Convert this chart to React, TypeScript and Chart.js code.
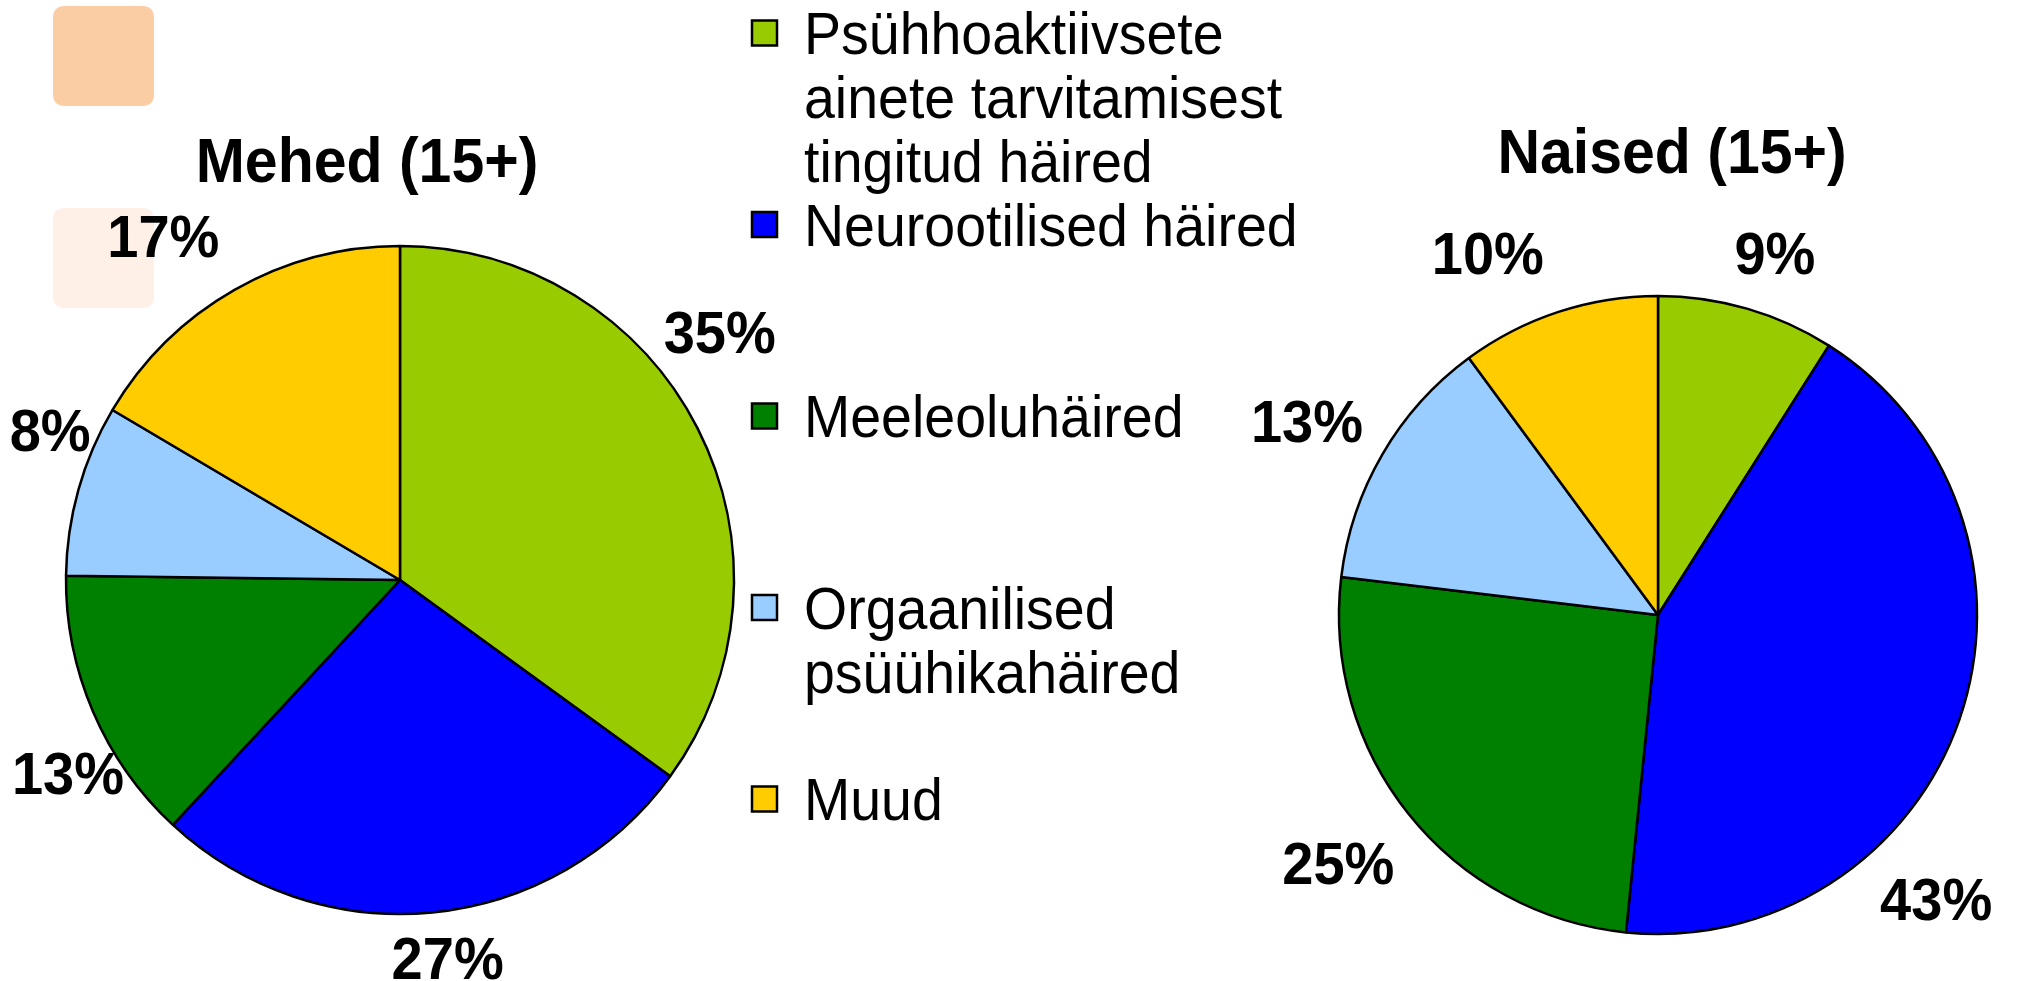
import React, { useEffect, useRef } from "react";
import { Chart, registerables } from "chart.js";

Chart.register(...registerables);

// ---------- data ----------
const categories: string[] = [
  "Psühhoaktiivsete\nainete tarvitamisest\ntingitud häired",
  "Neurootilised häired",
  "Meeleoluhäired",
  "Orgaanilised\npsüühikahäired",
  "Muud",
];
const menValues: number[] = [35.0, 26.9, 13.3, 8.3, 16.5];
const womenValues: number[] = [9.0, 42.6, 25.3, 13.0, 10.1];
const sliceColors: string[] = ["#99CC00", "#0000FF", "#008000", "#99CCFF", "#FFCC00"];
const menTitle = "Mehed (15+)";
const womenTitle = "Naised (15+)";

// ---------- layout / style ----------
const W = 2017;
const H = 981;
const FONT = '"Liberation Sans", Arial, Helvetica, sans-serif';

type PieLayout = {
  cx: number;
  cy: number;
  r: number;
  title: string;
  titleX: number;
  titleBaseline: number;
  labelAngleShift: number[];
  labelRadiusFactor: number[];
};

const menLayout: PieLayout = {
  cx: 400,
  cy: 580,
  r: 334,
  title: menTitle,
  titleX: 367,
  titleBaseline: 182,
  labelAngleShift: [-10.7, -1.6, -7.05, 7.45, -4.9],
  labelRadiusFactor: [1.21, 1.141, 1.151, 1.139, 1.248],
};

const womenLayout: PieLayout = {
  cx: 1658,
  cy: 615,
  r: 319,
  title: womenTitle,
  titleX: 1672,
  titleBaseline: 173,
  labelAngleShift: [1.7, 26.6, 0.8, -1.34, -7.0],
  labelRadiusFactor: [1.192, 1.248, 1.27, 1.257, 1.254],
};

const LABEL_DY = 4;

function drawText(
  ctx: CanvasRenderingContext2D,
  text: string,
  x: number,
  y: number,
  font: string,
  align: CanvasTextAlign,
  baseline: CanvasTextBaseline,
  stretchY: number
) {
  ctx.save();
  ctx.translate(x, y);
  ctx.scale(1, stretchY);
  ctx.font = font;
  ctx.fillStyle = "#000";
  ctx.textAlign = align;
  ctx.textBaseline = baseline;
  ctx.fillText(text, 0, 0);
  ctx.restore();
}

function roundRect(ctx: CanvasRenderingContext2D, x: number, y: number, w: number, h: number, r: number) {
  ctx.beginPath();
  ctx.moveTo(x + r, y);
  ctx.lineTo(x + w - r, y);
  ctx.quadraticCurveTo(x + w, y, x + w, y + r);
  ctx.lineTo(x + w, y + h - r);
  ctx.quadraticCurveTo(x + w, y + h, x + w - r, y + h);
  ctx.lineTo(x + r, y + h);
  ctx.quadraticCurveTo(x, y + h, x, y + h - r);
  ctx.lineTo(x, y + r);
  ctx.quadraticCurveTo(x, y, x + r, y);
  ctx.closePath();
}

function makeLabelPlugin(layout: PieLayout) {
  return {
    id: "pieLabels",
    afterDatasetsDraw(chart: any) {
      const ctx: CanvasRenderingContext2D = chart.ctx;
      const meta = chart.getDatasetMeta(0);
      const values: number[] = chart.data.datasets[0].data;
      meta.data.forEach((arc: any, i: number) => {
        const p = arc.getProps(["x", "y", "startAngle", "endAngle", "outerRadius"], true);
        const mid = (p.startAngle + p.endAngle) / 2 + (layout.labelAngleShift[i] * Math.PI) / 180;
        const d = p.outerRadius * layout.labelRadiusFactor[i];
        const x = p.x + Math.cos(mid) * d;
        const y = p.y + Math.sin(mid) * d + LABEL_DY;
        drawText(ctx, Math.round(values[i]) + "%", x, y, `bold 56px ${FONT}`, "center", "middle", 1.07);
      });
      drawText(ctx, layout.title, layout.titleX, layout.titleBaseline, `bold 59px ${FONT}`, "center", "alphabetic", 1.08);
    },
  };
}

const decorPlugin = {
  id: "decor",
  beforeDraw(chart: any) {
    const ctx: CanvasRenderingContext2D = chart.ctx;
    ctx.save();
    ctx.fillStyle = "#FACDA5";
    roundRect(ctx, 53, 6, 101, 100, 12);
    ctx.fill();
    ctx.fillStyle = "#FEF0E7";
    roundRect(ctx, 53, 208, 101, 100, 12);
    ctx.fill();
    ctx.restore();
  },
};

const legendPlugin = {
  id: "customLegend",
  afterDraw(chart: any) {
    const ctx: CanvasRenderingContext2D = chart.ctx;
    const labels: string[] = chart.data.labels;
    const colors: string[] = chart.data.datasets[0].backgroundColor;
    const boxX = 752;
    const box = 25;
    const textX = 804;
    const firstBaseline = 54;
    const itemStep = 191.5;
    const lineStep = 64;
    labels.forEach((lab, i) => {
      const base = firstBaseline + i * itemStep;
      ctx.save();
      ctx.fillStyle = colors[i];
      ctx.fillRect(boxX, base - 21 - box / 2, box, box);
      ctx.strokeStyle = "#000";
      ctx.lineWidth = 2.5;
      ctx.strokeRect(boxX, base - 21 - box / 2, box, box);
      ctx.restore();
      lab.split("\n").forEach((line, j) => {
        drawText(ctx, line, textX, base + j * lineStep, `55.5px ${FONT}`, "left", "alphabetic", 1.06);
      });
    });
  },
};

function makeConfig(values: number[], layout: PieLayout, extraPlugins: any[]): any {
  return {
    type: "pie",
    data: {
      labels: categories,
      datasets: [
        {
          data: values,
          backgroundColor: sliceColors,
          borderColor: "#000000",
          borderWidth: 2.5,
          radius: layout.r,
        },
      ],
    },
    options: {
      responsive: false,
      maintainAspectRatio: false,
      animation: false,
      events: [],
      layout: {
        padding: {
          left: Math.max(0, 2 * layout.cx - W),
          right: Math.max(0, W - 2 * layout.cx),
          top: Math.max(0, 2 * layout.cy - H),
          bottom: Math.max(0, H - 2 * layout.cy),
        },
      },
      plugins: {
        legend: { display: false },
        tooltip: { enabled: false },
        title: { display: false },
      },
    },
    plugins: [...extraPlugins, makeLabelPlugin(layout)],
  };
}

export default function App() {
  const leftRef = useRef<HTMLCanvasElement>(null);
  const rightRef = useRef<HTMLCanvasElement>(null);

  useEffect(() => {
    document.body.style.margin = "0";
    const c1 = new Chart(leftRef.current as HTMLCanvasElement, makeConfig(menValues, menLayout, [decorPlugin, legendPlugin]));
    const c2 = new Chart(rightRef.current as HTMLCanvasElement, makeConfig(womenValues, womenLayout, []));
    return () => {
      c1.destroy();
      c2.destroy();
    };
  }, []);

  return (
    <div style={{ position: "relative", width: W, height: H, background: "#fff", overflow: "hidden" }}>
      <canvas ref={leftRef} width={W} height={H} style={{ position: "absolute", left: 0, top: 0 }} />
      <canvas ref={rightRef} width={W} height={H} style={{ position: "absolute", left: 0, top: 0 }} />
    </div>
  );
}
